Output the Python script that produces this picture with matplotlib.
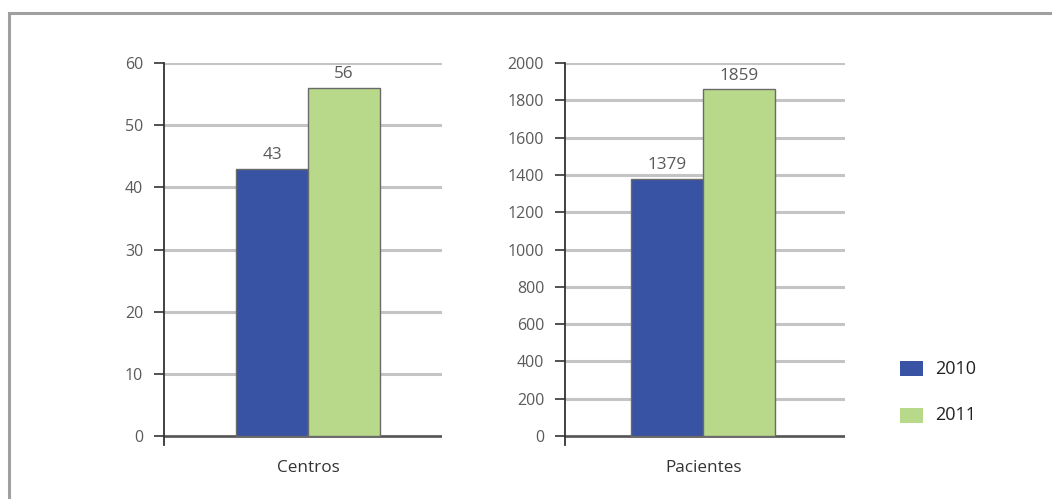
import matplotlib
matplotlib.use("Agg")
import matplotlib.pyplot as plt
from matplotlib.patches import Rectangle

# Data
years = ["2010", "2011"]
centros = [43, 56]
pacientes = [1379, 1859]
panel_titles = ["Centros", "Pacientes"]
centros_ticks = [0, 10, 20, 30, 40, 50, 60]
pacientes_ticks = [0, 200, 400, 600, 800, 1000, 1200, 1400, 1600, 1800, 2000]

colors = ["#3953a4", "#b8d98a"]
grid_color = "#c4c4c6"
label_gray = "#5a5a5a"

plt.rcParams["font.family"] = ["Open Sans", "DejaVu Sans"]

W, H = 1052, 499
fig = plt.figure(figsize=(W / 100, H / 100), dpi=100)


def px_axes(x0, x1, y_top, y_bot):
    return fig.add_axes([x0 / W, 1 - y_bot / H, (x1 - x0) / W, (y_bot - y_top) / H])


def draw_panel(ax, values, ticks, title, xlim, below_px):
    top = ticks[-1]
    span_px = 373
    ax.set_ylim(-top * below_px / span_px, top)
    ax.set_xlim(*xlim)
    ax.set_yticks(ticks)
    ax.set_yticklabels([str(t) for t in ticks])
    ax.yaxis.grid(True, color=grid_color, lw=2.2, zorder=0)
    ax.set_axisbelow(True)
    for s in ["top", "right", "bottom"]:
        ax.spines[s].set_visible(False)
    ax.spines["left"].set_color("#333333")
    ax.spines["left"].set_linewidth(1.3)
    ax.tick_params(axis="y", direction="out", length=7, width=1.2, color="#333333",
                   labelsize=11.5, labelcolor=label_gray, pad=8)
    ax.axhline(0, color="#555555", lw=1.8, zorder=1)
    positions = [-0.5, 0.5]
    bars = ax.bar(positions, values, width=1.0, color=colors,
                  edgecolor="#6a6a6a", linewidth=1.0, zorder=3)
    for b, v in zip(bars, values):
        ax.annotate(str(v), (b.get_x() + b.get_width() / 2, v),
                    xytext=(0, 4), textcoords="offset points",
                    ha="center", va="bottom", fontsize=12.3, color=label_gray)
    ax.set_xticks([0])
    ax.set_xticklabels([title])
    ax.tick_params(axis="x", length=0, pad=11, labelsize=12.3, labelcolor="#333333")


ax1 = px_axes(164, 442, 63, 445)
draw_panel(ax1, centros, centros_ticks, panel_titles[0], (-2.0, 1.86), 9)

ax2 = px_axes(565, 845, 63, 445)
draw_panel(ax2, pacientes, pacientes_ticks, panel_titles[1], (-1.92, 1.97), 9)

# Legend
for i, (yr, c) in enumerate(zip(years, colors)):
    y_top = 361 + i * 47
    fig.add_artist(Rectangle((900 / W, 1 - (y_top + 15) / H), 23 / W, 15 / H,
                             transform=fig.transFigure, facecolor=c, edgecolor="none"))
    fig.text(935 / W, 1 - (y_top + 7.5) / H, yr, fontsize=13, color="#222222",
             ha="left", va="center")

# Outer frame
fig.add_artist(Rectangle((9 / W, -0.1), 2.0, 1 - 13 / H + 0.1,
                         transform=fig.transFigure, fill=False,
                         edgecolor="#a0a0a0", linewidth=2.2))

fig.savefig("out.png", dpi=100)
